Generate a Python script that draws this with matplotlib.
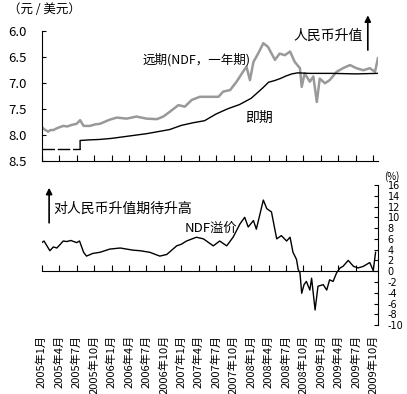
import matplotlib
matplotlib.use("Agg")
import matplotlib.pyplot as plt

plt.rcParams['font.family'] = ['Noto Sans CJK SC', 'DejaVu Sans']
plt.rcParams['axes.unicode_minus'] = False

# x values are months counted from 2005年1月
tick_months = list(range(0, 58, 3))
tick_labels = ['2005年1月', '2005年4月', '2005年7月', '2005年10月',
               '2006年1月', '2006年4月', '2006年7月', '2006年10月',
               '2007年1月', '2007年4月', '2007年7月', '2007年10月',
               '2008年1月', '2008年4月', '2008年7月', '2008年10月',
               '2009年1月', '2009年4月', '2009年7月', '2009年10月']

# spot rate before the July 2005 reform (peg)
peg_x = [0, 6.6]
peg_y = [8.28, 8.28]

# spot rate after the reform
spot_x = [6.6, 6.6, 8, 10, 12, 14, 16, 18, 20, 22, 24, 26, 28, 30, 32, 34,
          36, 37, 38, 39, 40, 41, 42, 43, 44, 46, 50, 54, 57.8]
spot_y = [8.28, 8.11, 8.10, 8.09, 8.07, 8.04, 8.01, 7.98, 7.94, 7.90, 7.82,
          7.77, 7.73, 7.60, 7.50, 7.42, 7.30, 7.20, 7.10, 6.99, 6.96, 6.92,
          6.87, 6.83, 6.81, 6.82, 6.82, 6.83, 6.82]

# 1-year NDF
ndf_x = [0, 0.5, 1.1, 1.5, 2.0, 2.7, 3.7, 4.4, 5.2, 6.0, 6.6, 7.2, 8.3, 9.2,
         10, 11.7, 12.9, 14.6, 16.3, 18, 19.8, 20.9, 22, 23.5, 24.6, 25.8,
         27.2, 28.9, 30.4, 31.2, 32.4, 33.5, 34.6, 35.2, 35.8, 36.4, 37.2,
         38.1, 38.9, 40.1, 40.9, 41.8, 42.7, 43.5, 44.4, 44.7, 45.2, 46.1,
         46.7, 47.3, 47.8, 48.7, 49.5, 50.7, 51.8, 53, 54.1, 55.3, 56.4,
         57.3, 57.8]
ndf_y = [7.85, 7.90, 7.94, 7.91, 7.91, 7.87, 7.83, 7.84, 7.81, 7.79, 7.72,
         7.83, 7.83, 7.80, 7.79, 7.71, 7.67, 7.69, 7.65, 7.69, 7.70, 7.65,
         7.56, 7.43, 7.46, 7.33, 7.27, 7.27, 7.27, 7.17, 7.14, 6.98, 6.79,
         6.69, 6.95, 6.60, 6.44, 6.24, 6.31, 6.56, 6.44, 6.47, 6.40, 6.60,
         6.72, 7.08, 6.82, 6.98, 6.88, 7.37, 6.92, 7.01, 6.95, 6.79, 6.72,
         6.66, 6.72, 6.76, 6.72, 6.79, 6.53]

# NDF premium (%)
prem_x = [0, 0.4, 0.9, 1.4, 2.0, 2.6, 3.2, 3.7, 4.3, 5.0, 6.0, 6.5, 7.2, 7.7,
          8.8, 10, 11.7, 13.5, 15.7, 16.9, 18.6, 20.3, 21.5, 23.2, 24, 24.9,
          26.6, 27.8, 29.5, 30.6, 31.8, 32.9, 34.1, 34.9, 35.5, 36.4, 36.9,
          38.1, 38.7, 39.5, 40.4, 41.2, 42.1, 42.7, 43.2, 43.8, 44.1, 44.4,
          44.7, 45.1, 45.5, 46.1, 46.4, 47, 47.5, 48.4, 49, 49.5, 50.1, 50.7,
          51.3, 51.8, 52.7, 53.6, 54.4, 55.3, 56.4, 57, 57.4]
prem_y = [5.3, 5.6, 4.7, 3.8, 4.5, 4.3, 5.0, 5.6, 5.5, 5.7, 5.3, 5.6, 3.5, 2.8,
          3.3, 3.5, 4.1, 4.3, 3.9, 3.8, 3.5, 2.8, 3.1, 4.7, 5.0, 5.6, 6.3, 6.0,
          4.7, 5.6, 4.7, 6.3, 8.8, 10.0, 8.2, 9.4, 7.8, 13.2, 11.6, 11.0, 6.0,
          6.6, 5.6, 6.3, 3.5, 2.2, 0.3, -0.3, -4.1, -2.5, -1.9, -3.5, -1.3,
          -7.2, -2.8, -2.5, -3.5, -1.6, -1.9, -0.3, 0.6, 0.9, 2.0, 0.9, 0.6,
          0.9, 1.6, 0.1, 3.5]

fig = plt.figure(figsize=(4.07, 3.94), dpi=100)

# ---- top panel: exchange rates
ax = fig.add_axes([0.1025, 0.592, 0.826, 0.330])
ax.plot(ndf_x, ndf_y, color='#999999', lw=1.8)
ax.plot(peg_x, peg_y, color='black', lw=1, dashes=(9, 2))
ax.plot(spot_x, spot_y, color='black', lw=1)
ax.set_xlim(0, 57.8)
ax.set_ylim(8.5, 6.0)
ax.set_yticks([6.0, 6.5, 7.0, 7.5, 8.0, 8.5])
ax.set_yticklabels(['6.0', '6.5', '7.0', '7.5', '8.0', '8.5'], fontsize=9.5)
ax.set_xticks(tick_months)
ax.set_xticklabels([])
ax.tick_params(axis='y', direction='in', length=3, pad=11)
ax.tick_params(axis='x', direction='in', length=4)
for s in ['top', 'right']:
    ax.spines[s].set_visible(False)
ax.text(-0.1, 1.16, '（元 / 美元）', transform=ax.transAxes, fontsize=9,
        ha='left', va='center')
ax.text(0.30, 0.78, '远期(NDF，一年期)', transform=ax.transAxes, fontsize=9,
        ha='left', va='center')
ax.text(0.605, 0.33, '即期', transform=ax.transAxes, fontsize=10,
        ha='left', va='center')
ax.text(0.955, 0.96, '人民币升值', transform=ax.transAxes, fontsize=10,
        ha='right', va='center')
ax.annotate('', xy=(0.97, 1.14), xytext=(0.97, 0.83), xycoords='axes fraction',
            arrowprops=dict(arrowstyle='-|>', color='black', lw=1.2,
                            mutation_scale=9))

# ---- bottom panel: NDF premium
ax2 = fig.add_axes([0.1025, 0.175, 0.826, 0.3555])
ax2.plot(prem_x, prem_y, color='black', lw=1)
ax2.set_xlim(0, 57.8)
ax2.set_ylim(-10, 16)
ax2.yaxis.tick_right()
ax2.set_yticks(range(-10, 17, 2))
ax2.set_yticklabels([str(v) for v in range(-10, 17, 2)], fontsize=7,
                    family=['Liberation Sans Narrow', 'DejaVu Sans'])
ax2.tick_params(axis='y', direction='in', length=3, pad=7)
ax2.spines['bottom'].set_position(('data', 0))
for s in ['top', 'left']:
    ax2.spines[s].set_visible(False)
ax2.set_xticks(tick_months)
ax2.set_xticklabels([])
ax2.tick_params(axis='x', direction='in', length=4)

sec = ax2.secondary_xaxis(0.0)
sec.set_xticks(tick_months)
sec.set_xticklabels(tick_labels, rotation=90, fontsize=8)
sec.tick_params(length=0, pad=7)
sec.spines['bottom'].set_visible(False)

ax2.text(1.04, 1.06, '(%)', transform=ax2.transAxes, fontsize=7,
         ha='center', va='center')
ax2.text(0.035, 0.83, '对人民币升值期待升高', transform=ax2.transAxes,
         fontsize=10, ha='left', va='center')
ax2.text(0.425, 0.69, 'NDF溢价', transform=ax2.transAxes, fontsize=9.5,
         ha='left', va='center')
ax2.annotate('', xy=(0.022, 1.0), xytext=(0.022, 0.71), xycoords='axes fraction',
             arrowprops=dict(arrowstyle='-|>', color='black', lw=1.2,
                             mutation_scale=9))

fig.savefig('out.png', dpi=100)
